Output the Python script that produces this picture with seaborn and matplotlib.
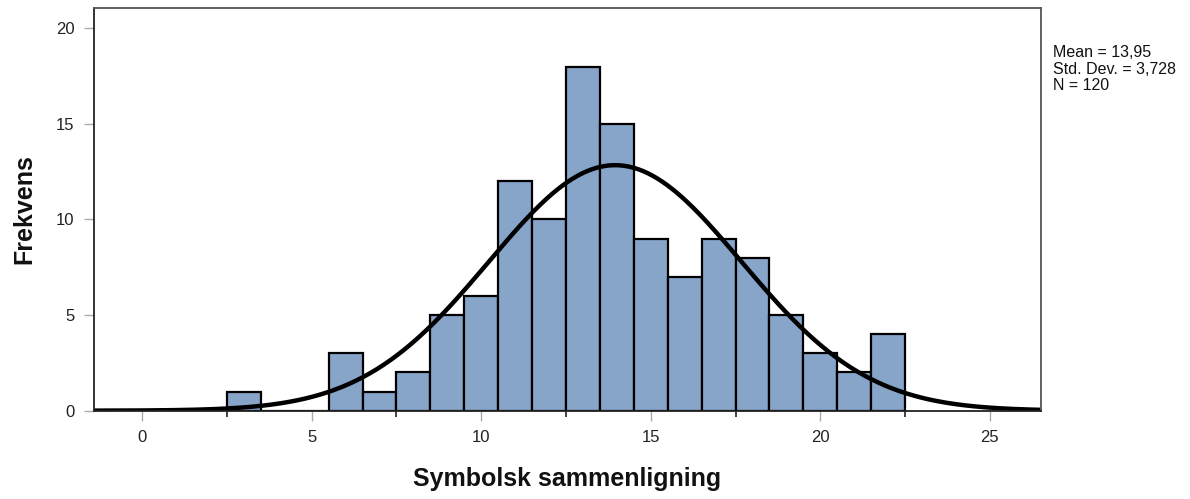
import numpy as np
import pandas as pd
import matplotlib
matplotlib.use("Agg")
import matplotlib.pyplot as plt
import seaborn as sns

# Data
scores = [3, 6, 7, 8, 9, 10, 11, 12, 13, 14, 15, 16, 17, 18, 19, 20, 21, 22]
counts = [1, 3, 1, 2, 5, 6, 12, 10, 18, 15, 9, 7, 9, 8, 5, 3, 2, 4]
x_ticks = [0, 5, 10, 15, 20, 25]
y_ticks = [0, 5, 10, 15, 20]
mean_val = 13.95
std_val = 3.728
n_val = 120

sns.set_theme(style="white")
plt.rcParams['font.family'] = ['Liberation Sans', 'DejaVu Sans']

fig = plt.figure(figsize=(11.9, 4.99), dpi=100)
ax = fig.add_axes([0.079, 0.177, 0.7955, 0.8065])

df = pd.DataFrame({"score": scores, "count": counts})
sns.histplot(data=df, x="score", weights="count", binwidth=1, binrange=(2.5, 22.5),
             color="#87a4c9", edgecolor="black", linewidth=1.6, alpha=1.0, ax=ax)

# Normal curve fitted from the stats
xs = np.linspace(-1.5, 26.5, 400)
ys = n_val * 1.0 / (std_val * np.sqrt(2 * np.pi)) * np.exp(-0.5 * ((xs - mean_val) / std_val) ** 2)
ax.plot(xs, ys, color="black", lw=3.2, solid_capstyle="butt")

ax.set_xlim(-1.42, 26.5)
ax.set_ylim(0, 21.05)
ax.set_xticks(x_ticks)
ax.set_yticks(y_ticks)
ax.set_xticks([2.5, 7.5, 12.5, 17.5, 22.5], minor=True)
ax.tick_params(axis="both", which="major", direction="out", length=7, width=1,
               color="#aaaaaa", labelsize=12, labelcolor="#222222", pad=7,
               bottom=True, left=True)
ax.tick_params(axis="x", which="minor", direction="out", length=4, width=1.2,
               color="#222222", bottom=True)

for s in ax.spines.values():
    s.set_color("#555555")
    s.set_linewidth(1.3)
ax.spines["left"].set_color("#222222")
ax.spines["bottom"].set_color("#222222")

ax.set_xlabel("Symbolsk sammenligning", fontsize=18, fontweight="bold", labelpad=16, color="#111111")
ax.set_ylabel("Frekvens", fontsize=18, fontweight="bold", labelpad=14, color="#111111")

fig.text(0.885, 0.909, f"Mean = 13,95\nStd. Dev. = 3,728\nN = {n_val}",
         fontsize=11.5, va="top", ha="left", linespacing=1.1, color="#111111")

fig.savefig("out.png", dpi=100)
